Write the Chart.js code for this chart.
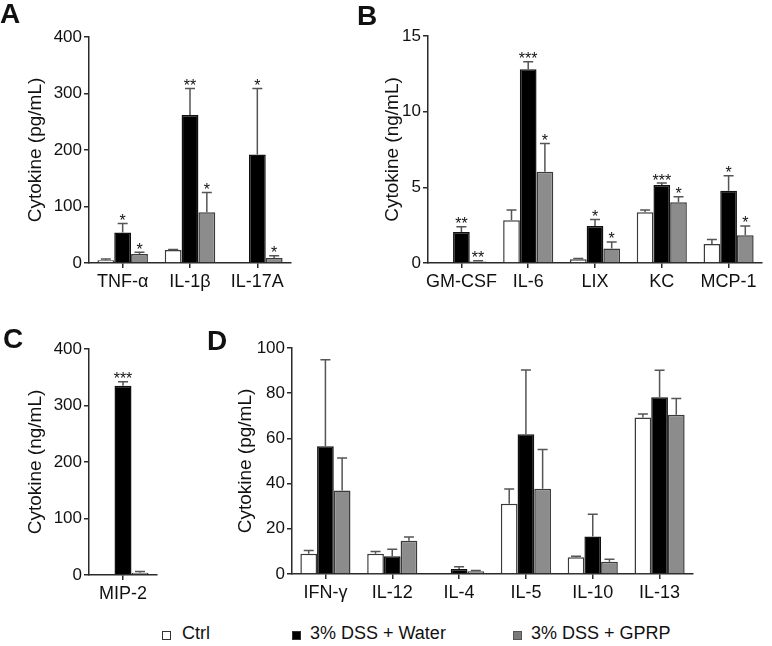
<!DOCTYPE html>
<html>
<head>
<meta charset="utf-8">
<title>Cytokines</title>
<script src="https://cdn.jsdelivr.net/npm/chart.js@4"></script>
<style>
  body { margin: 0; background: #fff; }
  #fig { position: relative; width: 772px; height: 646px; font-family: "Liberation Sans", Arial, sans-serif; color: #111; overflow: hidden; }
  #fig canvas { position: absolute; }
  .letra { position: absolute; font-weight: bold; font-size: 28px; line-height: 1; }
  .caja { position: absolute; top: 631px; width: 9px; height: 9px; box-sizing: border-box; border: 1px solid #333; }
  .texto { position: absolute; top: 624px; font-size: 18px; line-height: 18px; white-space: nowrap; }
</style>
</head>
<body>
<div id="fig">
  <canvas id="panelA" width="310" height="300" style="left:0;top:0"></canvas>
  <canvas id="panelB" width="402" height="300" style="left:370px;top:0"></canvas>
  <canvas id="panelC" width="200" height="310" style="left:0;top:300px"></canvas>
  <canvas id="panelD" width="572" height="310" style="left:200px;top:300px"></canvas>

  <div class="letra" style="left:0;top:0">A</div>
  <div class="letra" style="left:357px;top:2px">B</div>
  <div class="letra" style="left:3px;top:325px">C</div>
  <div class="letra" style="left:207px;top:327px">D</div>

  <div class="caja" style="left:162px;background:#fff"></div>
  <div class="texto" style="left:182px">Ctrl</div>
  <div class="caja" style="left:292px;background:#000"></div>
  <div class="texto" style="left:310px">3% DSS + Water</div>
  <div class="caja" style="left:513px;background:#7a7a7a;border-color:#555"></div>
  <div class="texto" style="left:531px">3% DSS + GPRP</div>
</div>

<script>
// --- 1. DATA (mean, upper error, significance) ---
const seriesNames = ['Ctrl', '3% DSS + Water', '3% DSS + GPRP'];

// A: pg/mL
const labelsA = ['TNF-α', 'IL-1β', 'IL-17A'];
const ctrlA = [5, 23, 1];
const ctrlErrA = [2, 1, 0];
const waterA = [54, 262, 192];
const waterErrA = [16, 47, 117];
const gprpA = [16, 90, 9];
const gprpErrA = [3, 35, 4];
const waterSigA = ['*', '**', '*'];
const gprpSigA = ['*', '*', '*'];
const ticksA = [0, 100, 200, 300, 400];

// B: ng/mL
const labelsB = ['GM-CSF', 'IL-6', 'LIX', 'KC', 'MCP-1'];
const ctrlB = [0, 2.83, 0.25, 3.36, 1.26];
const ctrlErrB = [0, 0.67, 0.05, 0.14, 0.29];
const waterB = [2.05, 12.8, 2.45, 5.15, 4.77];
const waterErrB = [0.35, 0.5, 0.42, 0.13, 0.99];
const gprpB = [0.1, 6.03, 0.95, 4.02, 1.83];
const gprpErrB = [0.05, 1.87, 0.44, 0.35, 0.62];
const waterSigB = ['**', '***', '*', '***', '*'];
const gprpSigB = ['**', '*', '*', '*', '*'];
const ticksB = [0, 5, 10, 15];

// C: ng/mL
const labelsC = ['MIP-2'];
const ctrlC = [1];
const ctrlErrC = [0];
const waterC = [335];
const waterErrC = [7];
const gprpC = [4];
const gprpErrC = [2];
const waterSigC = ['***'];
const gprpSigC = [''];
const ticksC = [0, 100, 200, 300, 400];

// D: pg/mL
const labelsD = ['IFN-γ', 'IL-12', 'IL-4', 'IL-5', 'IL-10', 'IL-13'];
const ctrlD = [9.0, 9.0, 0.3, 31.1, 7.4, 69.2];
const ctrlErrD = [1.4, 1.0, 0, 6.5, 0.4, 1.6];
const waterD = [56.5, 7.8, 2.2, 61.8, 16.6, 78.2];
const waterErrD = [38.3, 3.2, 1.0, 28.5, 9.8, 11.9];
const gprpD = [36.9, 14.7, 1.2, 37.7, 5.4, 70.5];
const gprpErrD = [14.4, 1.7, 0.4, 17.4, 1.1, 7.1];
const ticksD = [0, 20, 40, 60, 80, 100];

// --- 2. STYLE ---
const FUENTE = '"Liberation Sans", Arial, sans-serif';
const rellenos = ['#ffffff', '#000000', '#8c8c8c'];
const bordes = ['#3a3a3a', '#111111', '#3a3a3a'];
const EJE = '#2a2a2a';

// error bars (upward only) and stars, drawn from the y scale
const barrasError = {
    id: 'barrasError',
    afterDatasetsDraw(chart) {
        const { ctx, scales: { y } } = chart;
        ctx.save();
        chart.data.datasets.forEach((ds, i) => {
            const meta = chart.getDatasetMeta(i);
            meta.data.forEach((bar, j) => {
                const v = ds.data[j];
                const e = ds.errores ? ds.errores[j] : 0;
                let tope = bar.y;
                if (e > 0) {
                    tope = y.getPixelForValue(v + e);
                    ctx.strokeStyle = '#555';
                    ctx.lineWidth = 1.5;
                    ctx.beginPath();
                    ctx.moveTo(bar.x, bar.y);
                    ctx.lineTo(bar.x, tope);
                    ctx.moveTo(bar.x - 5, tope);
                    ctx.lineTo(bar.x + 5, tope);
                    ctx.stroke();
                }
                const sig = ds.signos ? ds.signos[j] : '';
                if (sig) {
                    ctx.fillStyle = '#111';
                    ctx.font = '16px ' + FUENTE;
                    ctx.textAlign = 'center';
                    ctx.textBaseline = 'alphabetic';
                    ctx.fillText(sig, bar.x, tope + 2.5);
                }
            });
        });
        ctx.restore();
    }
};

// --- 3. PANELS ---
function crearPanel(id, cfg) {
    const valores = [cfg.ctrl, cfg.water, cfg.gprp];
    const errores = [cfg.ctrlErr, cfg.waterErr, cfg.gprpErr];
    const signos = [[], cfg.waterSig || [], cfg.gprpSig || []];

    new Chart(document.getElementById(id), {
        type: 'bar',
        data: {
            labels: cfg.labels,
            datasets: seriesNames.map((nombre, i) => ({
                label: nombre,
                data: valores[i],
                errores: errores[i],
                signos: signos[i],
                backgroundColor: rellenos[i],
                borderColor: bordes[i],
                borderWidth: 1.5,
                categoryPercentage: 0.75,
                barPercentage: 1.0
            }))
        },
        options: {
            responsive: false,
            animation: false,
            layout: { padding: cfg.padding },
            plugins: { legend: { display: false }, tooltip: { enabled: false } },
            scales: {
                x: {
                    afterFit: s => { s.height = cfg.altoX; },
                    grid: { display: true, drawOnChartArea: false, offset: false, tickLength: 5, color: EJE, lineWidth: 1.5 },
                    border: { display: true, color: EJE, width: 1.5 },
                    ticks: { color: '#111', padding: 3, maxRotation: 0, autoSkip: false, font: { family: FUENTE, size: 18 } }
                },
                y: {
                    min: cfg.ticks[0],
                    max: cfg.ticks[cfg.ticks.length - 1],
                    afterBuildTicks: s => { s.ticks = cfg.ticks.map(v => ({ value: v })); },
                    afterFit: s => { s.width = cfg.anchoY; },
                    grid: { display: true, drawOnChartArea: false, tickLength: 5, color: EJE, lineWidth: 1.5 },
                    border: { display: true, color: EJE, width: 1.5 },
                    ticks: { color: '#111', padding: 2, font: { family: FUENTE, size: 17 } },
                    title: {
                        display: true,
                        text: cfg.titulo,
                        color: '#111',
                        padding: { top: cfg.titPad, bottom: 0 },
                        font: { family: FUENTE, size: 19, lineHeight: 1.2 }
                    }
                }
            }
        },
        plugins: [barrasError]
    });
}

crearPanel('panelA', {
    labels: labelsA, ctrl: ctrlA, ctrlErr: ctrlErrA, water: waterA, waterErr: waterErrA,
    gprp: gprpA, gprpErr: gprpErrA, waterSig: waterSigA, gprpSig: gprpSigA, ticks: ticksA,
    titulo: 'Cytokine (pg/mL)', titPad: 24,
    anchoY: 89, altoX: 37, padding: { top: 37, right: 19, left: 0, bottom: 0 }
});

crearPanel('panelB', {
    labels: labelsB, ctrl: ctrlB, ctrlErr: ctrlErrB, water: waterB, waterErr: waterErrB,
    gprp: gprpB, gprpErr: gprpErrB, waterSig: waterSigB, gprpSig: gprpSigB, ticks: ticksB,
    titulo: 'Cytokine (ng/mL)', titPad: 11,
    anchoY: 58, altoX: 37, padding: { top: 36, right: 10, left: 0, bottom: 0 }
});

crearPanel('panelC', {
    labels: labelsC, ctrl: ctrlC, ctrlErr: ctrlErrC, water: waterC, waterErr: waterErrC,
    gprp: gprpC, gprpErr: gprpErrC, waterSig: waterSigC, gprpSig: gprpSigC, ticks: ticksC,
    titulo: 'Cytokine (ng/mL)', titPad: 24,
    anchoY: 89, altoX: 35, padding: { top: 49, right: 43, left: 0, bottom: 0 }
});

crearPanel('panelD', {
    labels: labelsD, ctrl: ctrlD, ctrlErr: ctrlErrD, water: waterD, waterErr: waterErrD,
    gprp: gprpD, gprpErr: gprpErrD, ticks: ticksD,
    titulo: 'Cytokine (pg/mL)', titPad: 34,
    anchoY: 92, altoX: 36, padding: { top: 48, right: 79, left: 0, bottom: 0 }
});
</script>
</body>
</html>
